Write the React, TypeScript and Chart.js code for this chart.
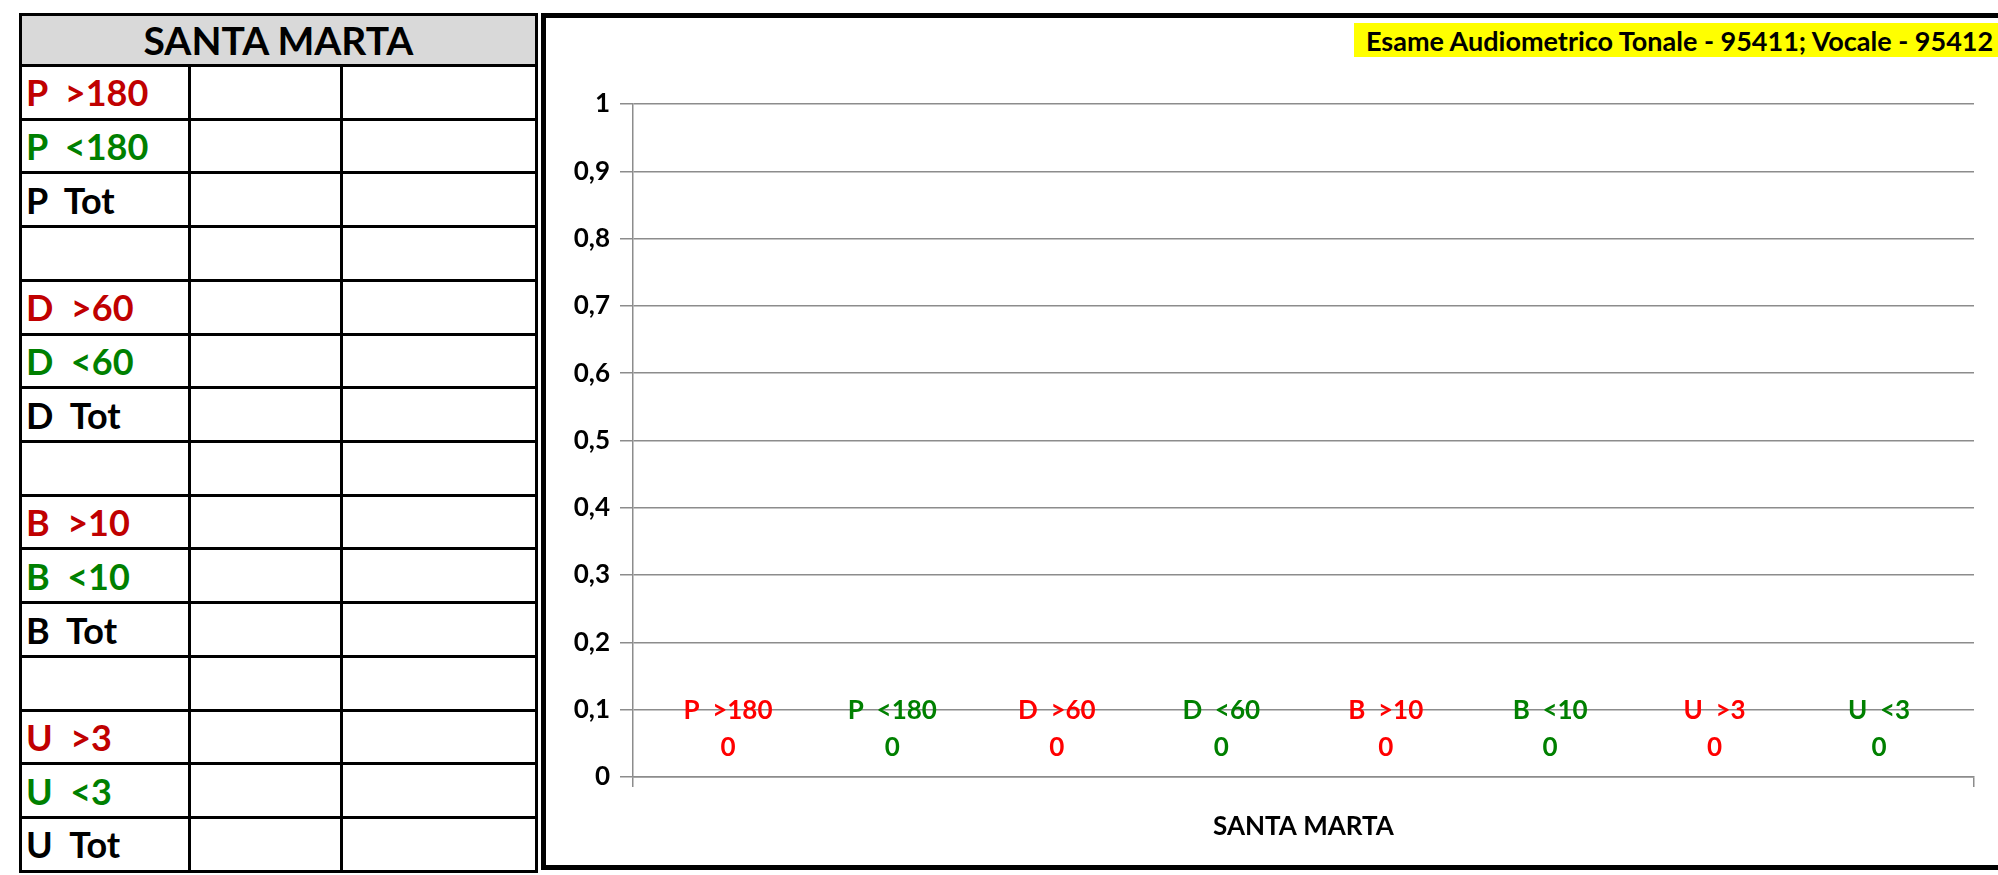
import React, { useEffect, useRef } from "react";
import { Chart, registerables } from "chart.js";
Chart.register(...registerables);

// ---- data ----
const categories = ["SANTA MARTA"];
const seriesNames = ["P  >180", "P  <180", "D  >60", "D  <60", "B  >10", "B  <10", "U  >3", "U  <3"];
const seriesValues = [[0], [0], [0], [0], [0], [0], [0], [0]];
const seriesColors = ["#ff0000", "#008000", "#ff0000", "#008000", "#ff0000", "#008000", "#ff0000", "#008000"];
const tableTitle = "SANTA MARTA";
const tableRows = ["P  >180", "P  <180", "P  Tot", "", "D  >60", "D  <60", "D  Tot", "", "B  >10", "B  <10", "B  Tot", "", "U  >3", "U  <3", "U  Tot"];
const tableRowColors = ["#c00000", "#008000", "#000", "#000", "#c00000", "#008000", "#000", "#000", "#c00000", "#008000", "#000", "#000", "#c00000", "#008000", "#000"];
const chartTitle = "Esame Audiometrico Tonale - 95411; Vocale - 95412";
const yMin = 0;
const yMax = 1;
const yStep = 0.1;

const FONT = "Lato, 'Open Sans', sans-serif";
const GRID = "#8c8c8c";

const seriesLabelPlugin = {
  id: "seriesLabels",
  afterDatasetsDraw(chart: any) {
    const ctx = chart.ctx;
    ctx.save();
    ctx.font = `bold 26px ${FONT}`;
    ctx.textAlign = "center";
    ctx.textBaseline = "middle";
    chart.data.datasets.forEach((ds: any, i: number) => {
      const meta = chart.getDatasetMeta(i);
      meta.data.forEach((el: any, j: number) => {
        const p = el.getProps(["x", "y"], true);
        ctx.fillStyle = ds.labelColor;
        ctx.fillText(ds.label, p.x, p.y - 66);
        ctx.fillText(String(ds.data[j]), p.x, p.y - 29);
      });
    });
    ctx.restore();
  },
};

function ChartPanel() {
  const ref = useRef<HTMLCanvasElement>(null);
  useEffect(() => {
    if (!ref.current) return;
    const chart = new Chart(ref.current, {
      type: "bar",
      data: {
        labels: categories,
        datasets: seriesNames.map((n, i) => ({
          label: n,
          data: seriesValues[i],
          backgroundColor: seriesColors[i],
          labelColor: seriesColors[i],
        })) as any,
      },
      options: {
        animation: false,
        responsive: false,
        layout: { padding: { top: 86, right: 24, left: 0, bottom: 0 } },
        plugins: { legend: { display: false }, tooltip: { enabled: false }, title: { display: false } },
        datasets: { bar: { categoryPercentage: 0.981, barPercentage: 1 } },
        scales: {
          x: {
            grid: { offset: true, drawOnChartArea: false, drawTicks: true, tickLength: 10, color: GRID, lineWidth: 1.5 },
            border: { display: true, color: GRID, width: 1.5 },
            ticks: { font: { family: FONT, weight: "bold", size: 26 }, color: "#000", padding: 24 },
            afterFit: (s: any) => { s.height = 88; },
          },
          y: {
            min: yMin,
            max: yMax,
            ticks: {
              stepSize: yStep,
              font: { family: FONT, weight: "bold", size: 26 },
              color: "#000",
              padding: 10,
              callback: (v: any) => String(Number(Number(v).toFixed(1))).replace(".", ","),
            },
            grid: { color: GRID, lineWidth: 1.5, tickLength: 13 },
            border: { display: true, color: GRID, width: 1.5 },
            afterFit: (s: any) => { s.width = 87; },
          },
        },
      } as any,
      plugins: [seriesLabelPlugin],
    });
    let alive = true;
    if ((document as any).fonts && (document as any).fonts.load) {
      Promise.all([
        (document as any).fonts.load(`bold 26px Lato`),
      ]).then(() => { if (alive) chart.update(); }).catch(() => {});
    }
    return () => { alive = false; chart.destroy(); };
  }, []);
  return <canvas ref={ref} width={1452} height={847} style={{ position: "absolute", left: 546, top: 18, width: 1452, height: 847 }} />;
}

export default function App() {
  return (
    <div style={{ position: "absolute", left: 0, top: 0, width: 1998, height: 875, overflow: "hidden", background: "#fff", fontFamily: FONT }}>
      <div
        style={{
          position: "absolute", left: 19, top: 13, width: 519, height: 860, boxSizing: "border-box",
          display: "grid", gridTemplateColumns: "166px 149px 192px", gridTemplateRows: "48px repeat(15, 50.73px)",
          gap: 3, padding: 3, background: "#000",
        }}
      >
        <div style={{ gridColumn: "1 / span 3", background: "#d9d9d9", display: "flex", alignItems: "center", justifyContent: "center", fontWeight: 700, fontSize: 39, color: "#000" }}>
          {tableTitle}
        </div>
        {tableRows.map((r, i) => (
          <React.Fragment key={i}>
            <div style={{ background: "#fff", display: "flex", alignItems: "center", paddingLeft: 4, fontWeight: 700, fontSize: 36, color: tableRowColors[i], whiteSpace: "pre" }}>{r}</div>
            <div style={{ background: "#fff" }} />
            <div style={{ background: "#fff" }} />
          </React.Fragment>
        ))}
      </div>
      <div style={{ position: "absolute", left: 541, top: 13, width: 1480, height: 857, boxSizing: "border-box", border: "5px solid #000" }} />
      <ChartPanel />
      <div style={{ position: "absolute", left: 1354, top: 23, width: 660, height: 34, background: "#ffff00", display: "flex", alignItems: "center", paddingLeft: 12, boxSizing: "border-box", whiteSpace: "nowrap", overflow: "hidden", fontWeight: 700, fontSize: 27, color: "#000" }}>
        {chartTitle}
      </div>
    </div>
  );
}
